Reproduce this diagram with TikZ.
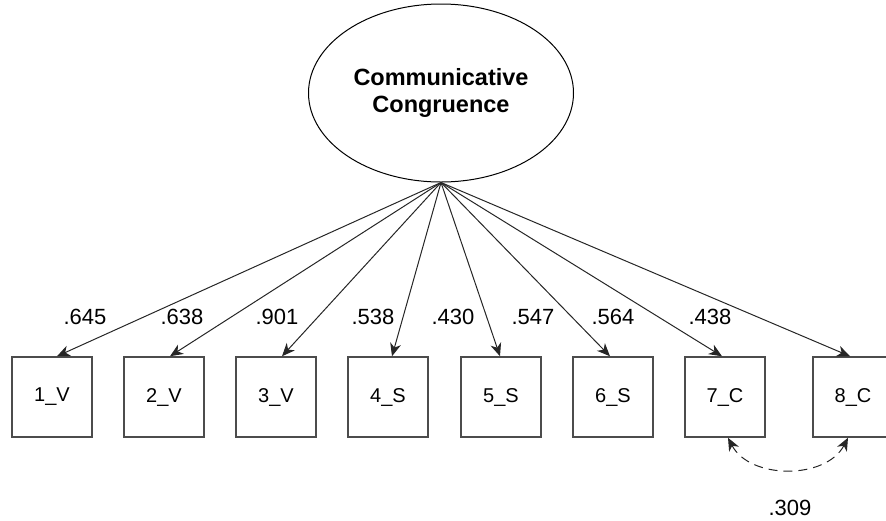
\documentclass[tikz,border=0pt]{standalone}
\usepackage{fontspec}
\setmainfont{Liberation Sans}
\usetikzlibrary{arrows.meta,shapes.geometric}
\begin{document}
\begin{tikzpicture}[x=1pt,y=-1pt,
  latent/.style={ellipse,draw=black,line width=1pt,minimum width=265pt,minimum height=178pt,
    inner sep=0pt,align=center,font=\fontsize{23.5}{27}\selectfont\bfseries},
  obs/.style={rectangle,draw=black!70,line width=1.5pt,minimum size=80pt,inner sep=0pt,
    font=\fontsize{20}{22}\selectfont},
  load/.style={draw=black!85,line width=1pt,-{Stealth[length=13pt,width=11pt,inset=4pt]}},
  cov/.style={draw=black!85,line width=1pt,dash pattern=on 9pt off 6pt,
    {Stealth[length=13pt,width=11pt,inset=4pt]}-{Stealth[length=13pt,width=11pt,inset=4pt]}},
  coef/.style={font=\fontsize{22}{24}\selectfont,inner sep=0pt}]
\useasboundingbox (0,0) rectangle (886,520);

% latent factor
\node[latent] (cc) at (441,93) {Communicative\\Congruence};

% observed indicators
\node[obs] (v1) at (52,397) {1\_V};
\node[obs] (v2) at (164,397) {2\_V};
\node[obs] (v3) at (276,397) {3\_V};
\node[obs] (v4) at (388,397) {4\_S};
\node[obs] (v5) at (501,397) {5\_S};
\node[obs] (v6) at (613,397) {6\_S};
\node[obs] (v7) at (725,397) {7\_C};
\node[obs] (v8) at (853,397) {8\_C};

% factor loadings
\draw[load] (cc.south) -- ([xshift=5pt]v1.north);
\draw[load] (cc.south) -- ([xshift=6pt]v2.north);
\draw[load] (cc.south) -- ([xshift=6pt]v3.north);
\draw[load] (cc.south) -- ([xshift=4pt]v4.north);
\draw[load] (cc.south) -- ([xshift=-1pt]v5.north);
\draw[load] (cc.south) -- ([xshift=-3pt]v6.north);
\draw[load] (cc.south) -- ([xshift=-3pt]v7.north);
\draw[load] (cc.south) -- ([xshift=-3pt]v8.north);

\node[coef] (l1) at (85,317) {.645};
\node[coef] (l2) at (182,317) {.638};
\node[coef] (l3) at (277,317) {.901};
\node[coef] (l4) at (373,317) {.538};
\node[coef] (l5) at (453,317) {.430};
\node[coef] (l6) at (533,317) {.547};
\node[coef] (l7) at (613,317) {.564};
\node[coef] (l8) at (710,317) {.438};

% residual covariance between 7_C and 8_C
\draw[cov] ([xshift=3pt]v7.south) .. controls +(22,42) and +(-22,42) .. ([xshift=-5pt]v8.south);
\node[coef] (r78) at (790,508) {.309};
\end{tikzpicture}
\end{document}
